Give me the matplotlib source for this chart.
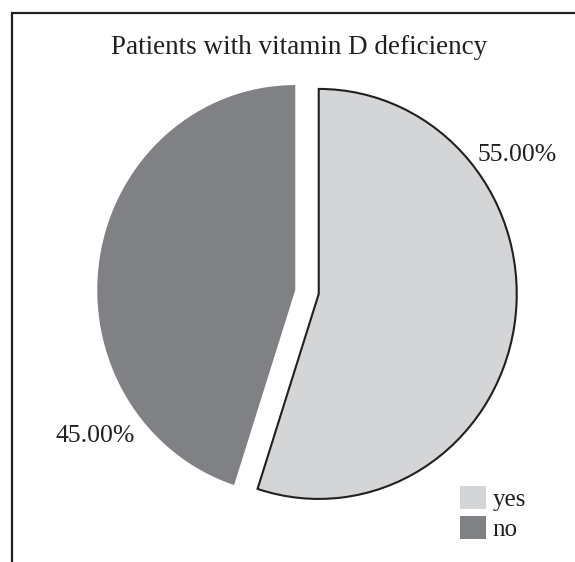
import matplotlib
matplotlib.use('Agg')
import matplotlib.pyplot as plt
from matplotlib.patches import Patch, Rectangle

# data
labels = ['yes', 'no']
shares = [55.0, 45.0]
colors = ['#d4d5d7', '#808184']
explode = [0.06, 0.06]
title = 'Patients with vitamin D deficiency'

plt.rcParams['font.family'] = ['Liberation Serif', 'DejaVu Serif']
ink = '#231f20'

W, H = 575, 562
fig = plt.figure(figsize=(W / 100, H / 100), dpi=100)

# pie centre / radii in pixels (original pie is slightly taller than wide)
cx, cy, rx, ry = 307, 292, 198, 205
ax = fig.add_axes([0, 0, 1, 1])
wedges, texts, autotexts = ax.pie(shares, colors=colors, explode=explode,
                                  startangle=90, counterclock=False,
                                  autopct='%.2f%%', pctdistance=1.25,
                                  textprops=dict(fontsize=18.5, color=ink))
wedges[0].set_edgecolor(ink)
wedges[0].set_linewidth(1.5)
wedges[1].set_edgecolor('none')

ax.set_xlim(-cx / rx, (W - cx) / rx)
ax.set_ylim(-(H - cy) / ry, cy / ry)
ax.set_aspect('auto')
ax.axis('off')

# percentage labels where the original puts them (pixel spots -> data)
label_px = [(517, 161), (95, 442)]
for t, (px, py) in zip(autotexts, label_px):
    t.set_position(((px - cx) / rx, (cy - py) / ry))
    t.set_va('baseline')

fig.text(299 / W, 1 - 54 / H, title, ha='center', va='baseline',
         fontsize=19.5, color=ink)

# frame (only top and left show in the crop)
fig.patches.append(Rectangle((11.5 / W, -0.1), 1.2, 1 - 12.5 / H + 0.1,
                             transform=fig.transFigure, fill=False,
                             lw=1.6, ec=ink))

handles = [Patch(facecolor=c, edgecolor='none', label=l) for c, l in zip(colors, labels)]
fig.legend(handles=handles, loc='upper left', bbox_to_anchor=(460 / W, 1 - 486 / H),
           frameon=False, fontsize=18, handlelength=1.05, handleheight=1.05,
           handletextpad=0.25, labelspacing=0.2, borderpad=0, borderaxespad=0,
           labelcolor=ink)

fig.savefig('out.png', dpi=100)
